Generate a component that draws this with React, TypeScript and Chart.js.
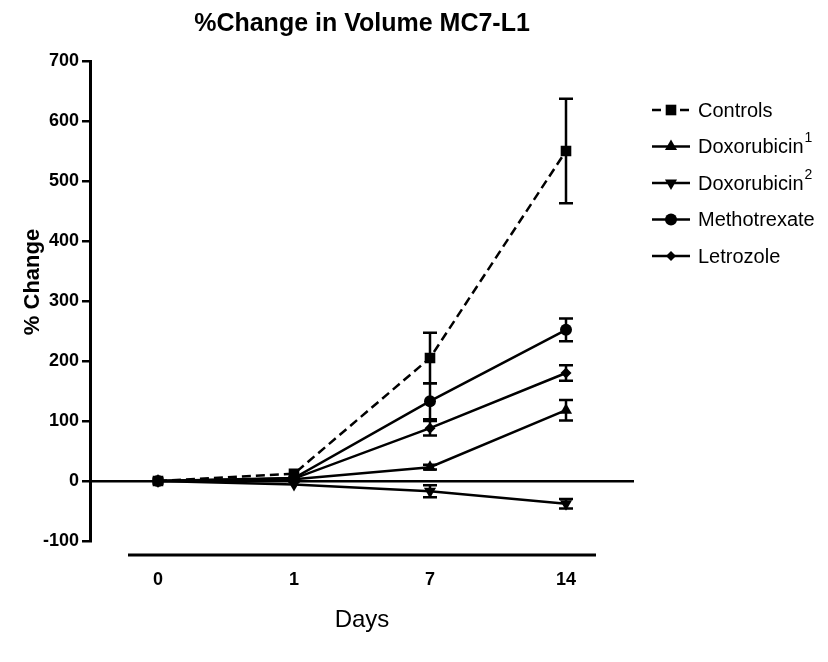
import React, { useEffect, useRef } from 'react';
import { Chart, registerables } from 'chart.js';

Chart.register(...registerables);

// ---- data ----
const days = ['0', '1', '7', '14'];
const controls = [0, 12, 205, 550];
const controlsErr = [0, 0, 42, 87];
const doxorubicin1 = [0, 3, 23, 118];
const doxorubicin1Err = [0, 0, 4, 17];
const doxorubicin2 = [0, -6, -17, -38];
const doxorubicin2Err = [0, 0, 10, 8];
const methotrexate = [0, 5, 133, 252];
const methotrexateErr = [0, 0, 30, 19];
const letrozole = [0, 4, 88, 180];
const letrozoleErr = [0, 0, 12, 13];
const yTicksMin = -100;
const yTicksMax = 700;
const yTickStep = 100;
const yTitle = '% Change';

const FONT = "'Liberation Sans', Arial, Helvetica, sans-serif";

function drawMarker(ctx: CanvasRenderingContext2D, style: string, rotation: number, x: number, y: number, r: number) {
  ctx.save();
  ctx.fillStyle = 'black';
  ctx.beginPath();
  if (style === 'rect') {
    const s = r * Math.SQRT1_2;
    ctx.rect(x - s, y - s, 2 * s, 2 * s);
  } else if (style === 'circle') {
    ctx.arc(x, y, r, 0, Math.PI * 2);
  } else if (style === 'triangle') {
    let rad = (rotation * Math.PI) / 180;
    for (let i = 0; i < 3; i++) {
      const px = x + Math.sin(rad) * r;
      const py = y - Math.cos(rad) * r;
      if (i === 0) ctx.moveTo(px, py);
      else ctx.lineTo(px, py);
      rad += (2 * Math.PI) / 3;
    }
    ctx.closePath();
  } else if (style === 'rectRot') {
    ctx.moveTo(x, y - r);
    ctx.lineTo(x + r, y);
    ctx.lineTo(x, y + r);
    ctx.lineTo(x - r, y);
    ctx.closePath();
  }
  ctx.fill();
  ctx.restore();
}

const errorBarPlugin = {
  id: 'errorBars',
  beforeDatasetsDraw(chart: any) {
    const { ctx } = chart;
    const yScale = chart.scales.y;
    chart.data.datasets.forEach((ds: any, di: number) => {
      const meta = chart.getDatasetMeta(di);
      const errs: number[] = ds.errors || [];
      ds.data.forEach((v: number, i: number) => {
        const e = errs[i];
        if (!e) return;
        const pt = meta.data[i];
        const x = pt.x;
        const yT = yScale.getPixelForValue(v + e);
        const yB = yScale.getPixelForValue(v - e);
        ctx.save();
        ctx.strokeStyle = 'black';
        ctx.lineWidth = 2.5;
        ctx.beginPath();
        ctx.moveTo(x, yT);
        ctx.lineTo(x, yB);
        ctx.moveTo(x - 7, yT);
        ctx.lineTo(x + 7, yT);
        ctx.moveTo(x - 7, yB);
        ctx.lineTo(x + 7, yB);
        ctx.stroke();
        ctx.restore();
      });
    });
  },
};

const xAxisLinePlugin = {
  id: 'xAxisLine',
  afterDraw(chart: any) {
    const { ctx, chartArea } = chart;
    const xs = chart.scales.x;
    const x1 = xs.getPixelForValue(0) - 30;
    const x2 = xs.getPixelForValue(days.length - 1) + 30;
    const y = chartArea.bottom + 14;
    ctx.save();
    ctx.strokeStyle = 'black';
    ctx.lineWidth = 3;
    ctx.beginPath();
    ctx.moveTo(x1, y);
    ctx.lineTo(x2, y);
    ctx.stroke();
    ctx.restore();
  },
};

const yTitlePlugin = {
  id: 'yTitle',
  afterDraw(chart: any) {
    const { ctx, chartArea } = chart;
    ctx.save();
    ctx.translate(chartArea.left - 57, chartArea.top + 221);
    ctx.rotate(-Math.PI / 2);
    ctx.fillStyle = 'black';
    ctx.font = `bold 22px ${FONT}`;
    ctx.textAlign = 'center';
    ctx.textBaseline = 'middle';
    ctx.fillText(yTitle, 0, 0);
    ctx.restore();
  },
};

const legendPlugin = {
  id: 'sideLegend',
  afterDraw(chart: any) {
    const { ctx, chartArea } = chart;
    const x0 = chartArea.right + 18;
    const lineLen = 38;
    let y = chartArea.top + 49;
    chart.data.datasets.forEach((ds: any) => {
      ctx.save();
      ctx.strokeStyle = 'black';
      ctx.lineWidth = 2.5;
      ctx.setLineDash(ds.borderDash || []);
      ctx.beginPath();
      ctx.moveTo(x0, y);
      ctx.lineTo(x0 + lineLen, y);
      ctx.stroke();
      ctx.setLineDash([]);
      drawMarker(ctx, ds.pointStyle, ds.pointRotation || 0, x0 + lineLen / 2, y, ds.legendRadius);
      let label: string = ds.label;
      let sup = '';
      if (label.endsWith('¹')) { sup = '1'; label = label.slice(0, -1); }
      if (label.endsWith('²')) { sup = '2'; label = label.slice(0, -1); }
      ctx.fillStyle = 'black';
      ctx.font = `20px ${FONT}`;
      ctx.textBaseline = 'middle';
      ctx.textAlign = 'left';
      const tx = x0 + 46;
      ctx.fillText(label, tx, y + 1);
      if (sup) {
        const w = ctx.measureText(label).width;
        ctx.font = `14px ${FONT}`;
        ctx.fillText(sup, tx + w + 1, y - 8);
      }
      ctx.restore();
      y += 36.5;
    });
  },
};

export default function App() {
  const canvasRef = useRef<HTMLCanvasElement | null>(null);

  useEffect(() => {
    if (!canvasRef.current) return;
    const common = {
      borderColor: 'black',
      backgroundColor: 'black',
      pointBackgroundColor: 'black',
      pointBorderColor: 'black',
      borderWidth: 2.5,
      pointBorderWidth: 0,
      tension: 0,
      fill: false,
    };
    const chart = new Chart(canvasRef.current, {
      type: 'line',
      data: {
        labels: days,
        datasets: [
          { ...common, label: 'Controls', data: controls, errors: controlsErr, borderDash: [9, 5], pointStyle: 'rect', pointRadius: 7.5, legendRadius: 7.5 } as any,
          { ...common, label: 'Doxorubicin¹', data: doxorubicin1, errors: doxorubicin1Err, pointStyle: 'triangle', pointRadius: 7, legendRadius: 7 } as any,
          { ...common, label: 'Doxorubicin²', data: doxorubicin2, errors: doxorubicin2Err, pointStyle: 'triangle', pointRotation: 180, pointRadius: 7, legendRadius: 7 } as any,
          { ...common, label: 'Methotrexate', data: methotrexate, errors: methotrexateErr, pointStyle: 'circle', pointRadius: 6, legendRadius: 6 } as any,
          { ...common, label: 'Letrozole', data: letrozole, errors: letrozoleErr, pointStyle: 'rectRot', pointRadius: 5.5, legendRadius: 5 } as any,
        ],
      },
      options: {
        animation: false,
        responsive: true,
        maintainAspectRatio: false,
        devicePixelRatio: 1,
        layout: { padding: { left: 0, right: 186, top: 0, bottom: 0 } },
        plugins: {
          legend: { display: false },
          tooltip: { enabled: false },
          title: {
            display: true,
            text: '%Change in Volume MC7-L1',
            fullSize: false,
            color: 'black',
            font: { family: FONT, size: 25, weight: 'bold' },
            padding: { top: 1, bottom: 22 },
          },
        },
        scales: {
          x: {
            type: 'category',
            offset: true,
            grid: { display: false, drawTicks: false },
            border: { display: false },
            ticks: { color: 'black', font: { family: FONT, size: 18, weight: 'bold' }, padding: 28 },
            title: {
              display: true,
              text: 'Days',
              color: 'black',
              font: { family: FONT, size: 24 },
              padding: { top: 0, bottom: 19.6 },
            },
            afterFit: (s: any) => { s.height = 113; },
          },
          y: {
            min: yTicksMin,
            max: yTicksMax,
            ticks: { stepSize: yTickStep, color: 'black', font: { family: FONT, size: 18, weight: 'bold' }, padding: 3 },
            grid: {
              color: (c: any) => (c.tick && c.tick.value === 0 ? 'black' : 'rgba(0,0,0,0)'),
              lineWidth: 2.5,
              drawTicks: true,
              tickLength: 8,
              tickColor: 'black',
              tickWidth: 2.5,
            },
            border: { display: true, color: 'black', width: 3 },
            title: { display: false },
            afterFit: (s: any) => { s.width = 82; },
          },
        },
      } as any,
      plugins: [errorBarPlugin, xAxisLinePlugin, yTitlePlugin, legendPlugin],
    });
    return () => chart.destroy();
  }, []);

  return (
    <div style={{ width: 812, height: 646, position: 'relative' }}>
      <canvas ref={canvasRef} />
    </div>
  );
}
